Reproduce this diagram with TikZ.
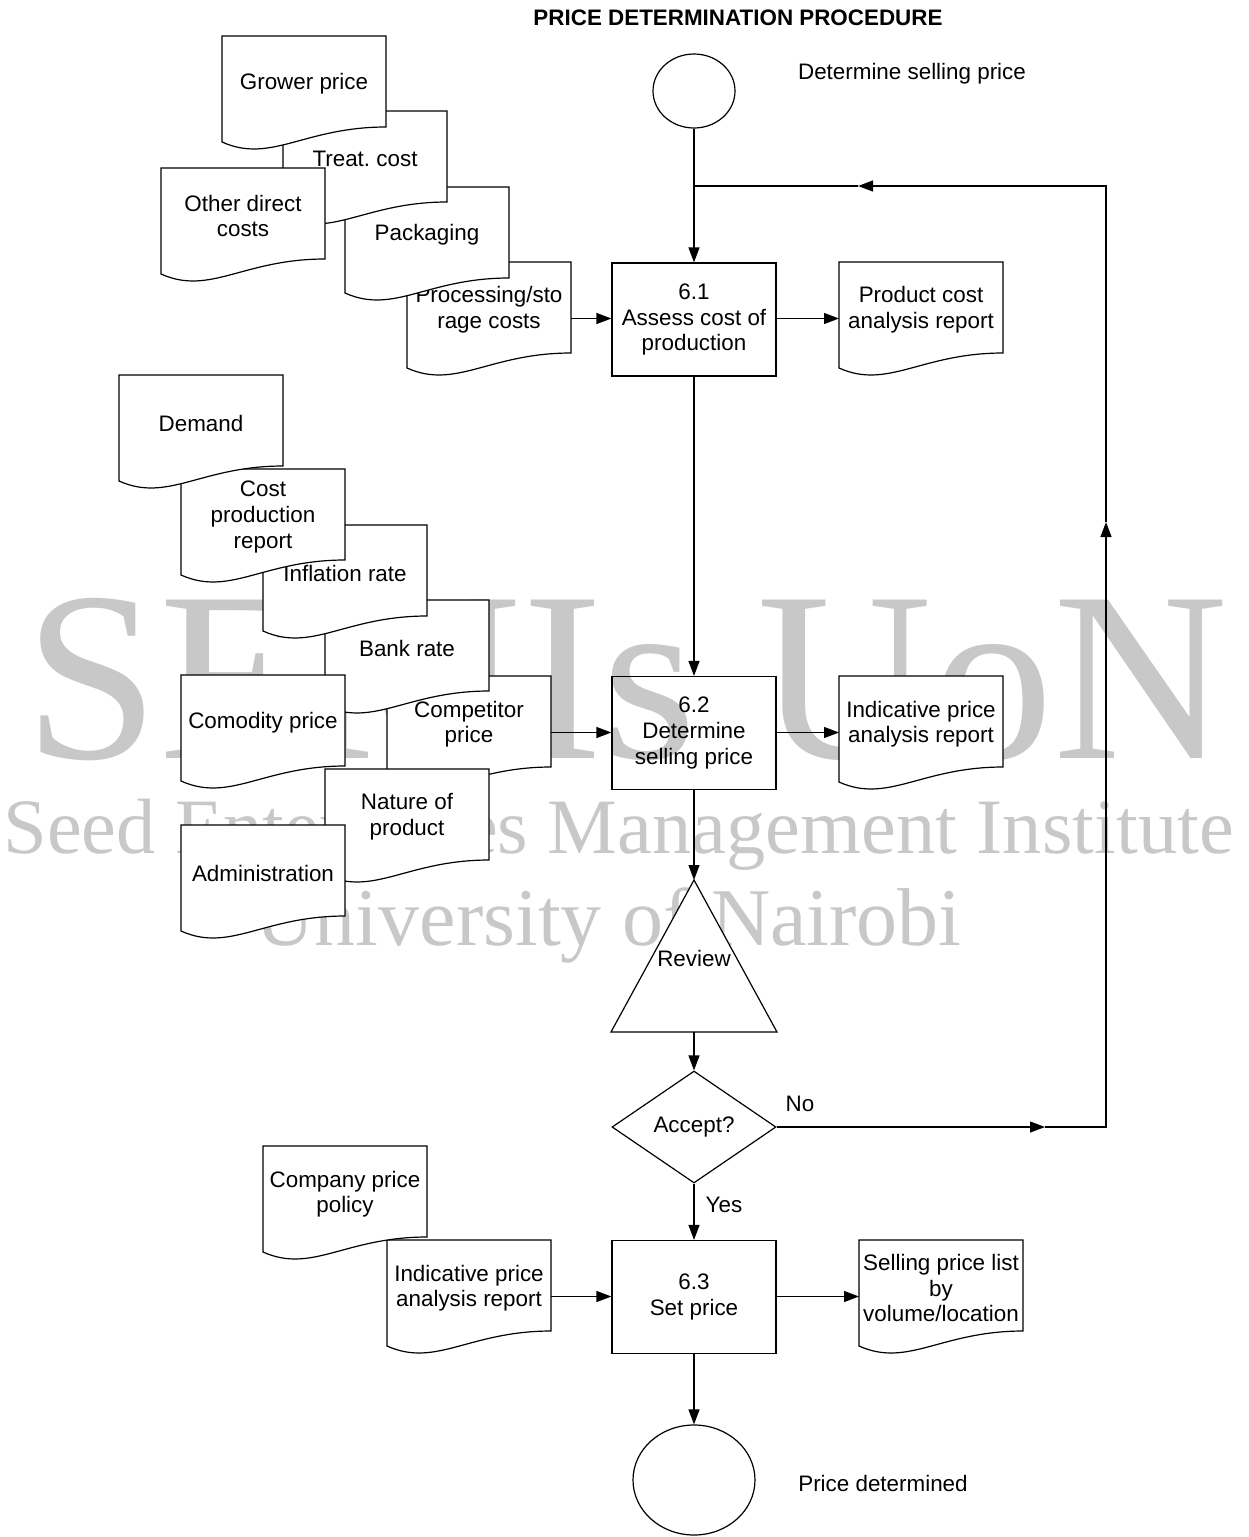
\documentclass[tikz,border=0pt]{standalone}
\usepackage{fontspec}
\setmainfont{Liberation Sans}
\newfontfamily\wmfont{Liberation Serif}
\usepackage{tikz}
\usetikzlibrary{shapes.geometric}
\usetikzlibrary{arrows.meta}
\usepackage{color}
\definecolor{wmgray}{RGB}{200, 200, 200}
\frenchspacing

\tikzset{
  txt/.style={font=\fontsize{11.2}{12.8}\selectfont, align=center, inner sep=0pt},
  wm/.style={text=wmgray, inner sep=0pt, anchor=base west},
  proc/.style={txt, draw, minimum width=82pt, minimum height=56.5pt},
  term/.style={ellipse, draw, inner sep=0pt},
  flow/.style={-{Triangle[length=7.5pt, width=5.5pt]}},
  docline/.style={draw=black, fill=white}
}

\newcommand{\docshape}[4]{%
  \begin{scope}[shift={(#2,#3)}]
    \filldraw[docline] (0,0) -- (164,0) -- (164,91) .. controls (82,91) and (49,128) .. (0,106) -- cycle;
    \node[txt] (#1) at (82,48) {#4};
    \coordinate (#1-l) at (0,56.5);
    \coordinate (#1-r) at (164,56.5);
  \end{scope}}

\begin{document}
\begin{tikzpicture}[x=0.5pt, y=-0.5pt, line width=0.6pt]
  \useasboundingbox (0,0) rectangle (1248,1537);

  \node[wm, font=\wmfont\fontsize{121}{121}\selectfont] (wm1) at ( 24, 758) {SEMIs UoN};
  \node[wm, font=\wmfont\fontsize{39.2}{40}\selectfont] (wm2) at (  3, 853) {Seed Enterprises Management Institute};
  \node[wm, font=\wmfont\fontsize{41}{41}\selectfont]   (wm3) at (255, 945) {University of Nairobi};

  \node[txt, font=\fontsize{11.2}{12.8}\selectfont\bfseries] (title) at (738, 18) {PRICE DETERMINATION PROCEDURE};

  \docshape{proc} {407}{262}{Processing/sto\\rage costs}
  \docshape{pack} {345}{187}{Packaging}
  \docshape{treat}{283}{111}{Treat. cost}
  \docshape{grow} {222}{ 36}{Grower price}
  \docshape{odc}  {161}{168}{Other direct\\costs}

  \docshape{comp} {387}{676}{Competitor\\price}
  \docshape{bank} {325}{600}{Bank rate}
  \docshape{natp} {325}{769}{Nature of\\product}
  \docshape{admin}{181}{825}{Administration}
  \docshape{comod}{181}{675}{Comodity price}
  \docshape{infl} {263}{525}{Inflation rate}
  \docshape{cpr}  {181}{469}{Cost\\production\\report}
  \docshape{dem}  {119}{375}{Demand}

  \docshape{ipa}  {387}{1240}{Indicative price\\analysis report}
  \docshape{cpp}  {263}{1146}{Company price\\policy}

  \docshape{pca}  {839}{262}{Product cost\\analysis report}
  \docshape{ipr}  {839}{676}{Indicative price\\analysis report}
  \docshape{spl}  {859}{1240}{Selling price list\\by\\volume/location}

  \node[term, minimum width=41pt, minimum height=37pt] (start) at (694,  91) {};
  \node[term, minimum width=61pt, minimum height=55pt] (stop)  at (694,1480) {};
  \node[txt] (ldet) at (912,  74) {Determine selling price};
  \node[txt] (lend) at (883,1483) {Price determined};

  \node[proc] (p61) at (694, 319.5) {6.1\\Assess cost of\\production};
  \node[proc] (p62) at (694, 733)   {6.2\\Determine\\selling price};
  \node[proc] (p63) at (694,1297)   {6.3\\Set price};

  \filldraw[draw=black, fill=white] (694,880) -- (777,1032) -- (611,1032) -- cycle;
  \coordinate (revtop) at (694, 880);
  \coordinate (revbot) at (694,1032);
  \node[txt] (rev) at (694,958) {Review};

  \node[txt, diamond, draw, fill=white, aspect=1.46, minimum width=82pt, minimum height=56pt] (acc) at (694,1127) {Accept?};
  \node[txt] (lno)  at (800,1104) {No};
  \node[txt] (lyes) at (724,1205) {Yes};

  \coordinate (fbr)  at (1106,1127);
  \coordinate (fbtr) at (1106, 186);
  \coordinate (fbtl) at ( 694, 186);
  \coordinate (fba)  at (1045,1127);
  \coordinate (fbb)  at (1106, 522);
  \coordinate (fbc)  at ( 858, 186);

  \draw[flow] (start)  -- (p61);
  \draw[flow] (p61)    -- (p62);
  \draw[flow] (p62)    -- (revtop);
  \draw[flow] (revbot) -- (acc);
  \draw[flow] (acc)    -- (p63);
  \draw[flow] (p63)    -- (stop);

  \draw[flow] (proc-r) -- (proc-r -| p61.west);
  \draw[flow] (p61.east |- pca-l) -- (pca-l);
  \draw[flow] (comp-r) -- (comp-r -| p62.west);
  \draw[flow] (p62.east |- ipr-l) -- (ipr-l);
  \draw[flow] (ipa-r)  -- (ipa-r -| p63.west);
  \draw[flow] (p63.east |- spl-l) -- (spl-l);

  \draw[flow] (acc) -- (fba);
  \draw[flow] (fba) -- (fbr)  -- (fbb);
  \draw[flow] (fbb) -- (fbtr) -- (fbc);
  \draw       (fbc) -- (fbtl);
\end{tikzpicture}
\end{document}
